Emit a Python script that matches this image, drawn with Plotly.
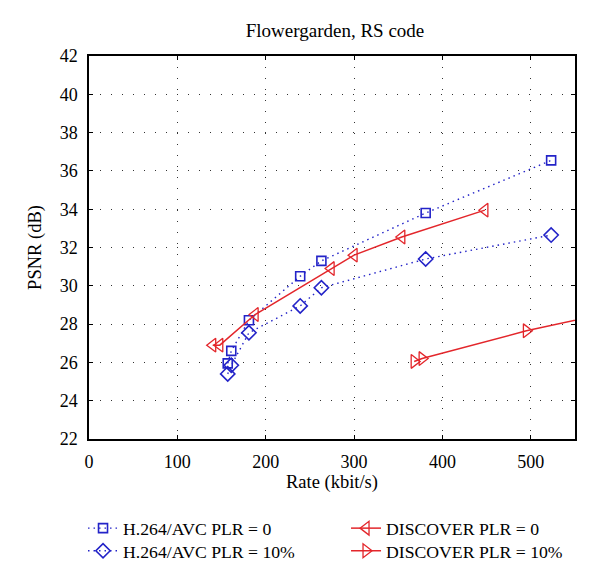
import plotly.graph_objects as go

# Data
h264_plr0_rate = [157, 161, 181, 239, 263, 381, 523]
h264_plr0_psnr = [25.95, 26.6, 28.2, 30.5, 31.3, 33.8, 36.55]

h264_plr10_rate = [157, 161, 181, 239, 263, 381, 523]
h264_plr10_psnr = [25.4, 25.85, 27.55, 28.95, 29.9, 31.4, 32.65]

disc_plr0_rate = [140, 148, 188, 274, 300, 354, 448]
disc_plr0_psnr = [26.9, 26.9, 28.5, 30.9, 31.6, 32.55, 33.95]

disc_plr10_rate = [368, 377, 495, 640]
disc_plr10_psnr = [26.05, 26.2, 27.65, 29.1]

x_ticks = [0, 100, 200, 300, 400, 500]
y_ticks = [22, 24, 26, 28, 30, 32, 34, 36, 38, 40, 42]

BLUE = "#2323c8"
RED = "#e3262b"
FONT = "Liberation Serif"

fig = go.Figure()
fig.add_trace(go.Scatter(
    x=h264_plr0_rate, y=h264_plr0_psnr, mode="lines+markers",
    name="H.264/AVC PLR = 0", legend="legend",
    line=dict(color=BLUE, width=1.4, dash="1.5px,4px"),
    marker=dict(symbol="square-open", size=9, color=BLUE, line=dict(width=1.6))))
fig.add_trace(go.Scatter(
    x=disc_plr0_rate, y=disc_plr0_psnr, mode="lines+markers",
    name="DISCOVER PLR = 0", legend="legend",
    line=dict(color=RED, width=1.5),
    marker=dict(symbol="triangle-left-open", size=12, color=RED, line=dict(width=1.3))))
fig.add_trace(go.Scatter(
    x=h264_plr10_rate, y=h264_plr10_psnr, mode="lines+markers",
    name="H.264/AVC PLR = 10%", legend="legend2",
    line=dict(color=BLUE, width=1.4, dash="1.5px,4px"),
    marker=dict(symbol="diamond-open", size=11, color=BLUE, line=dict(width=1.6))))
fig.add_trace(go.Scatter(
    x=disc_plr10_rate, y=disc_plr10_psnr, mode="lines+markers",
    name="DISCOVER PLR = 10%", legend="legend2",
    line=dict(color=RED, width=1.5),
    marker=dict(symbol="triangle-right-open", size=12, color=RED, line=dict(width=1.3))))

axis_common = dict(
    showline=True, linecolor="black", linewidth=1.5, mirror="ticks",
    ticks="inside", ticklen=4, tickcolor="black", tickwidth=1,
    showgrid=True, gridcolor="#333333", gridwidth=1, griddash="1px,10px",
    zeroline=False, tickfont=dict(family=FONT, size=18, color="black"),
    ticklabelstandoff=6,
)

fig.update_xaxes(range=[0, 550], tickvals=x_ticks,
                 title=dict(text="Rate (kbit/s)", font=dict(family=FONT, size=18.5, color="black"), standoff=0),
                 **axis_common)
fig.update_yaxes(range=[22, 42], tickvals=y_ticks,
                 title=dict(text="PSNR (dB)", font=dict(family=FONT, size=18.5, color="black"), standoff=13),
                 **axis_common)

legend_common = dict(orientation="h", xref="paper", yref="paper",
                     x=-0.0123, xanchor="left", yanchor="middle",
                     entrywidth=218, entrywidthmode="pixels",
                     font=dict(family=FONT, size=17.7, color="black"),
                     bgcolor="rgba(0,0,0,0)")

fig.update_layout(
    width=600, height=575,
    paper_bgcolor="white", plot_bgcolor="white",
    margin=dict(l=81, r=33, t=48, b=144, autoexpand=False),
    title=dict(text="Flowergarden, RS code", x=0.545, xanchor="center", y=0.962, yanchor="middle",
               font=dict(family=FONT, size=19, color="black")),
    font=dict(family=FONT, size=17, color="black"),
    legend=dict(y=-0.234, **legend_common),
    legend2=dict(y=-0.293, **legend_common),
    showlegend=True,
)

fig.write_html("out.html")
